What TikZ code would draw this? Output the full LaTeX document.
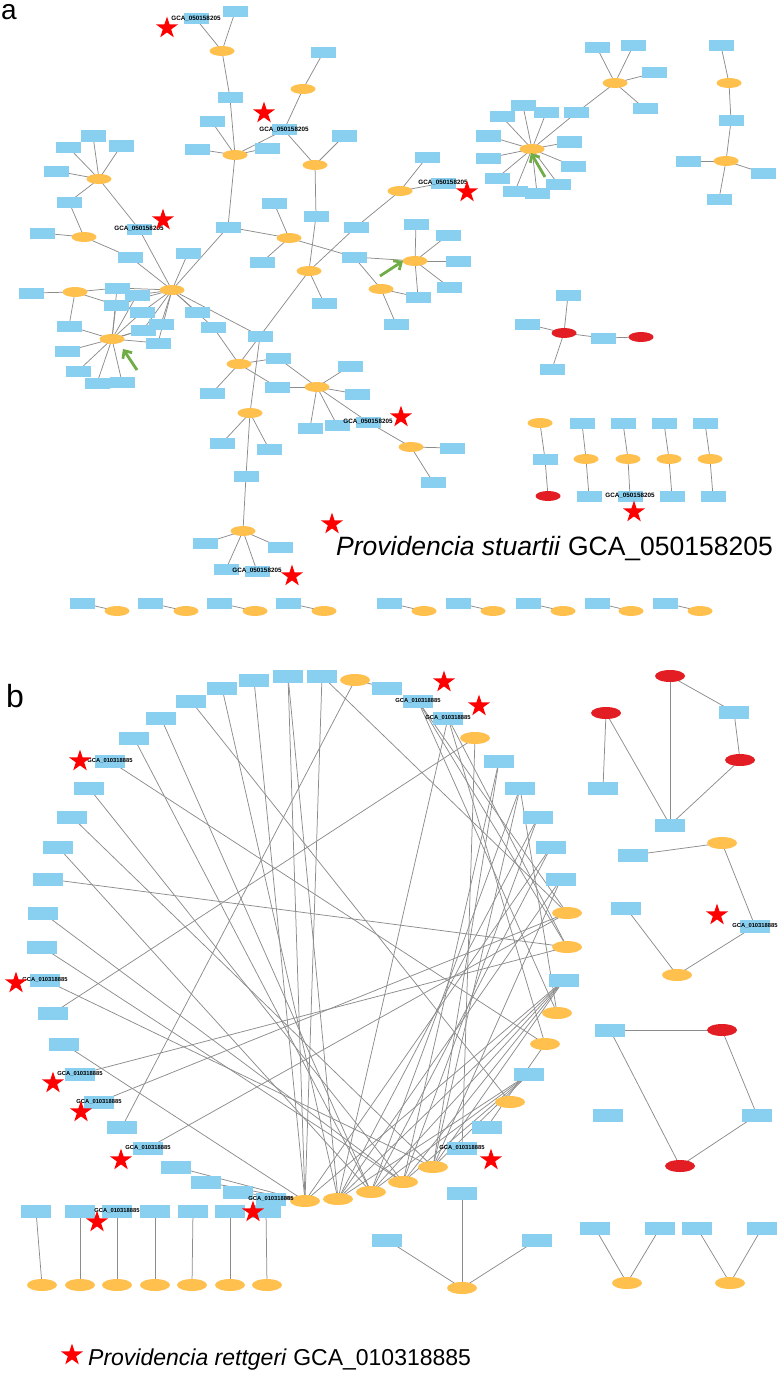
\documentclass[tikz,border=0pt]{standalone}
\usepackage{fontspec}
\setmainfont{Liberation Sans}
\usetikzlibrary{shapes.geometric,arrows.meta,backgrounds}
\definecolor{rb}{RGB}{137,207,240}
\definecolor{eo}{RGB}{255,192,77}
\definecolor{er}{RGB}{226,30,36}
\definecolor{eg}{RGB}{140,140,140}
\definecolor{ga}{RGB}{112,173,71}
\begin{document}
\begin{tikzpicture}[x=1pt,y=-1pt,
  R/.style={rectangle,fill=rb,minimum width=25pt,minimum height=11pt,inner sep=0pt},
  E/.style={ellipse,fill=eo,minimum width=25pt,minimum height=10pt,inner sep=0pt},
  ER/.style={E,fill=er},
  RB/.style={R,minimum width=30pt,minimum height=13pt},
  EB/.style={E,minimum width=30pt,minimum height=12pt},
  ERB/.style={EB,fill=er},
  laba/.style={inner sep=0pt,font=\fontsize{6.3}{7}\selectfont\bfseries},
  labb/.style={inner sep=0pt,font=\fontsize{5.8}{7}\selectfont\bfseries},
  st/.style={star,star points=5,star point ratio=2.618,fill=red,inner sep=0pt,minimum size=23pt},
  ln/.style={draw=eg,line width=0.75pt},
  garrow/.style={draw=ga,line width=2.8pt,-{Straight Barb[length=6pt,width=11pt]}}
]
\useasboundingbox (0,0) rectangle (781,1386);
% ---------------- part a ----------------
\node[anchor=base west,inner sep=0pt,font=\fontsize{28}{30}\selectfont] (la) at (1,20) {a};
\foreach \n/\x/\y in {r1/196/19, r2/235/12, r3/230/98, r4/212/122, r5/197/149, r6/267/148, r7/284/130, r8/323/53, r9/344/136, r10/316/216, r11/228/227, r12/274/203, r13/262/262, r14/354/257, r15/416/224, r16/448/235, r17/458/261, r18/449/287, r19/418/297, r20/396/324, r21/356/227, r22/324/303, r23/260/336, r24/427/157, r25/443/183, p1/56/171, p2/68/147, p3/93/136, p4/121/146, r26/69/202, r27/139/229, r28/42/233, r29/130/257, r30/188/253, r31/197/312, r32/213/327, s1/117/288, s2/137/295, s3/116/305, s4/142/312, s5/143/330, s6/161/324, s7/158/343, r33/31/293, r34/69/326, r35/67/351, r36/78/371, r37/97/383, r38/122/382, r39/212/393, r40/278/358, r41/277/387, r42/350/366, r43/357/394, r44/310/428, r45/337/425, r46/368/422, r47/452/448, r48/433/482, r49/222/443, r50/269/449, r51/246/476, r52/205/543, r53/280/547, r54/226/569, r55/257/571,
 t1/597/48, t2/633/46, t3/654/73, t4/645/109, t5/576/113, u1/523/106, u2/502/117, u3/546/113, u4/488/136, u5/569/142, u6/488/158, u7/573/166, u8/497/178, u9/558/184, u10/515/191, u11/537/193, v1/721/46, v2/731/121, v3/688/161, v4/763/173, v5/719/199,
 w1/568/295, w2/527/324, w3/552/369, w4/603/338,
 x1/545/459, x2/582/423, x3/589/496, x4/623/423, x5/630/496, x6/664/423, x7/672/496, x8/705/423, x9/713/496,
 m1/82/603, m2/150/603, m3/219/603, m4/288/603, m5/389/603, m6/458/603, m7/528/603, m8/597/603, m9/665/603}
 \node[R] (\n) at (\x,\y) {};
\foreach \n/\x/\y in {a1/222/51, a2/235/155, a3/303/89, a4/315/165, a5/289/238, a6/415/261, a7/381/289, a8/309/271, a9/400/191, hub/172/290, b1/99/179, b2/84/237, b3/75/292, b4/112/339, a10/239/364, a11/317/387, a12/411/447, a13/250/413, a14/243/531, c1/615/83, c2/532/149, c3/729/83, c4/726/161,
 y1/540/423, y2/586/459, y3/628/459, y4/669/459, y5/710/459,
 n1/117/611, n2/186/611, n3/255/611, n4/324/611, n5/424/611, n6/493/611, n7/563/611, n8/631/611, n9/700/611}
 \node[E] (\n) at (\x,\y) {};
\foreach \n/\x/\y in {z1/564/333, z2/641/337, z3/548/496}
 \node[ER] (\n) at (\x,\y) {};
\foreach \n in {r1,r7,r27,r25,r46,r55,x5}
 \node[laba] at (\n) {GCA\_050158205};
\begin{pgfonlayer}{background}
\foreach \a/\b in {a1/r1,a1/r2,a1/r3, a2/r3,a2/r4,a2/r5,a2/r6,a2/r7,a2/r11, a3/r7,a3/r8, a4/r7,a4/r9,a4/r10, a5/r11,a5/r12,a5/r13,a5/r14, a6/r14,a6/r15,a6/r16,a6/r17,a6/r18,a6/r19, a7/r14,a7/r19,a7/r20, a8/r10,a8/r21,a8/r22,a8/r23, a9/r21,a9/r24,a9/r25,
 hub/r27,hub/r29,hub/r30,hub/r11,hub/r23,hub/r31,hub/r32, hub/s1,hub/s2,hub/s3,hub/s4,hub/s5,hub/s6,hub/s7,
 b1/p1,b1/p2,b1/p3,b1/p4,b1/r26,b1/r27, b2/r26,b2/r28,b2/r29, b3/r33,b3/s1,b3/s3,b3/r34,
 b4/r34,b4/r35,b4/r36,b4/r37,b4/r38,b4/s1,b4/s2,b4/s3,b4/s4,b4/s5,b4/s6,b4/s7,
 a10/r32,a10/r23,a10/r39,a10/r40,a10/r41, a11/r40,a11/r41,a11/r42,a11/r43,a11/r44,a11/r45,a11/r46, a12/r46,a12/r47,a12/r48, a13/r23,a13/r49,a13/r50,a13/r51, a14/r51,a14/r52,a14/r53,a14/r54,a14/r55,
 c1/t1,c1/t2,c1/t3,c1/t4,c1/t5, c2/t5,c2/u1,c2/u2,c2/u3,c2/u4,c2/u5,c2/u6,c2/u7,c2/u8,c2/u9,c2/u10,c2/u11, c3/v1,c3/v2, c4/v2,c4/v3,c4/v4,c4/v5,
 z1/w1,z1/w2,z1/w3,z1/w4, z2/w4, y1/x1, z3/x1, y2/x2,y2/x3, y3/x4,y3/x5, y4/x6,y4/x7, y5/x8,y5/x9,
 m1/n1,m2/n2,m3/n3,m4/n4,m5/n5,m6/n6,m7/n7,m8/n8,m9/n9}
 \draw[ln] (\a.center) -- (\b.center);
\end{pgfonlayer}
\foreach \x/\y [count=\i] in {167/28, 264/113, 163/220, 467/192, 401/417, 292/576, 634/512, 332/524}
 \node[st] (sa\i) at (\x,\y) {};
\node[anchor=west,inner sep=0pt,font=\fontsize{26.5}{30}\selectfont] (lega) at (336,549) {\textit{Providencia stuartii} GCA\_050158205};
\coordinate (g1s) at (137,370); \coordinate (g1e) at (123,349);
\coordinate (g2s) at (380,276); \coordinate (g2e) at (403,261);
\coordinate (g3s) at (545,177); \coordinate (g3e) at (531,153);
\draw[garrow] (g1s) -- (g1e);
\draw[garrow] (g2s) -- (g2e);
\draw[garrow] (g3s) -- (g3e);
% ---------------- part b ----------------
\node[anchor=base west,inner sep=0pt,font=\fontsize{32}{34}\selectfont] (lb) at (6,707) {b};
\foreach \n/\x/\y in {q1/288/676, q2/322/676, q4/387/688, q5/418/701, q6/448/718, q8/499/761, q9/520/788, q10/538/817, q11/551/847, q12/561/879, q15/564/980, q18/529/1074, q20/487/1127, q21/462/1148, q27/271/1199, q28/238/1192, q29/206/1182, q30/176/1167, q31/148/1148, q32/122/1127, q33/99/1102, q34/80/1074, q35/64/1044, q36/53/1013, q37/45/980, q38/42/947, q39/43/913, q40/48/879, q41/58/847, q42/72/817, q43/89/788, q44/110/761, q45/134/738, q46/161/718, q47/191/701, q48/222/688, q49/254/680,
 f3/734/712, f5/603/788, f6/670/825, g2/633/855, g3/626/908, g4/755/926, h1/610/1030, h3/608/1115, h4/757/1115,
 k1/462/1193, k2/387/1240, k3/537/1240, l1/595/1228, l2/660/1228, l4/697/1228, l5/762/1228,
 o1/36/1211, o2/80/1211, o3/117/1211, o4/155/1211, o5/193/1211, o6/230/1211, o7/266/1211}
 \node[RB] (\n) at (\x,\y) {};
\foreach \n/\x/\y in {q3/355/680, q7/475/738, q13/567/913, q14/567/947, q16/557/1013, q17/545/1044, q19/510/1102, q22/433/1167, q23/403/1182, q24/371/1192, q25/338/1199, q26/305/1201,
 g1/722/843, g5/677/975, k4/462/1288, l3/627/1283, l6/730/1283,
 e1/42/1285, e2/80/1285, e3/117/1285, e4/155/1285, e5/192/1285, e6/230/1285, e7/267/1285}
 \node[EB] (\n) at (\x,\y) {};
\foreach \n/\x/\y in {f1/606/713, f2/670/676, f4/740/760, h2/722/1030, h5/680/1166}
 \node[ERB] (\n) at (\x,\y) {};
\foreach \n in {q5,q6,q21,q27,q31,q33,q34,q37,q44,o3,g4}
 \node[labb] at (\n) {GCA\_010318885};
\begin{pgfonlayer}{background}
\foreach \a/\b in {q1/q26,q1/q25, q2/q26,q2/q13, q3/q4,q3/q32, q5/q13,q5/q14,q5/q16, q6/q25,q6/q14,q6/q17, q7/q21,q7/q36,
 q8/q22,q8/q23, q9/q22,q9/q24,q9/q16, q10/q23,q10/q25, q11/q24,q11/q26, q12/q25,q12/q22,
 q15/q22,q15/q23,q15/q24,q15/q25,q15/q26, q18/q22,q18/q23,q18/q24,q18/q25, q20/q17,
 q28/q26,q29/q26,q30/q26, q31/q13, q33/q13, q34/q14, q35/q26, q37/q22, q38/q23, q39/q23, q40/q14, q41/q24, q42/q22, q43/q23, q44/q17, q45/q24, q46/q24, q47/q19, q48/q25, q49/q26,
 f1/f5,f1/f6,f2/f6,f2/f3,f3/f4,f4/f6, g1/g2,g1/g4,g3/g5,g5/g4, h1/h2,h1/h5,h2/h4,h4/h5,
 k1/k4,k2/k4,k3/k4, l1/l3,l2/l3,l4/l6,l5/l6,
 o1/e1,o2/e2,o3/e3,o4/e4,o5/e5,o6/e6,o7/e7}
 \draw[ln] (\a.center) -- (\b.center);
\end{pgfonlayer}
\foreach \x/\y [count=\i] in {80/761, 444/682, 479/706, 16/983, 53/1083, 81/1112, 121/1160, 253/1212, 491/1160, 97/1222, 717/915, 72/1355}
 \node[st] (sb\i) at (\x,\y) {};
\node[anchor=west,inner sep=0pt,font=\fontsize{23}{26}\selectfont] (legb) at (88,1360) {\textit{Providencia rettgeri} GCA\_010318885};
\end{tikzpicture}
\end{document}
